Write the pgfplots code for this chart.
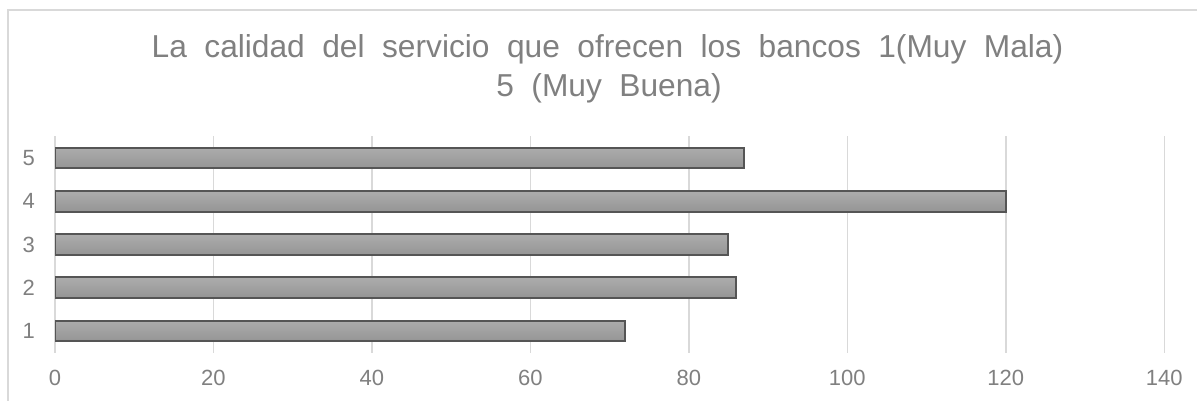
\documentclass[border=0pt]{standalone}
\usepackage{fontspec}
\setmainfont{Liberation Sans}
\usepackage{pgfplots}
\pgfplotsset{compat=1.18}
\definecolor{txt}{HTML}{808080}
\definecolor{gridc}{HTML}{D9D9D9}
\definecolor{barline}{HTML}{555555}
\definecolor{bartop}{HTML}{ACACAC}
\definecolor{barbot}{HTML}{959595}
\tikzset{mybar/.style={draw=barline, line width=2pt, top color=bartop, bottom color=barbot}}
\begin{document}
\begin{tikzpicture}[x=1pt,y=1pt]
\useasboundingbox (0,0) rectangle (1197,401);
\draw[gridc, line width=1.2pt] (8,-5) -- (8,391) -- (1205,391);
\node[txt, font=\fontsize{31.7}{36}\selectfont, anchor=base, inner sep=0pt] at (607.5,343) {\spaceskip=17.5pt\relax La calidad del servicio que ofrecen los bancos 1(Muy Mala)};
\node[txt, font=\fontsize{31.7}{36}\selectfont, anchor=base, inner sep=0pt] at (609,304.5) {\spaceskip=17.5pt\relax 5 (Muy Buena)};
\begin{axis}[
  at={(55pt,48.4pt)}, anchor=south west,
  scale only axis, width=1109.3pt, height=216.2pt,
  xmin=0, xmax=140, ymin=0.5, ymax=5.5,
  xtick={0,20,...,140}, ytick={1,2,3,4,5},
  axis line style={draw=none},
  major tick length=0pt,
  xmajorgrids, grid style={gridc, line width=1.5pt},
  tick label style={txt, font=\fontsize{22}{26}\selectfont},
  /pgf/number format/assume math mode=true,
  yticklabel style={inner sep=0pt, anchor=east, xshift=-20pt},
  xticklabel style={inner sep=0pt, anchor=north, yshift=-17.4pt},
  xbar, bar width=20.5pt, bar shift=0pt,
]
\addplot[mybar] coordinates {(72,1)};
\addplot[mybar] coordinates {(86,2)};
\addplot[mybar] coordinates {(85,3)};
\addplot[mybar] coordinates {(120,4)};
\addplot[mybar] coordinates {(87,5)};
\end{axis}
\end{tikzpicture}
\end{document}
